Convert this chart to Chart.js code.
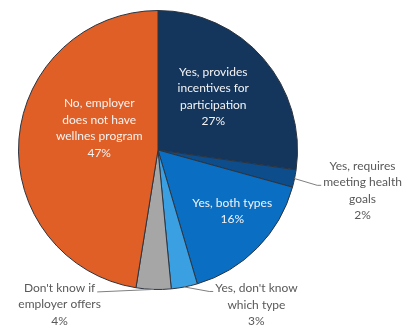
<!DOCTYPE html>
<html><head><meta charset="utf-8">
<script src="https://cdn.jsdelivr.net/npm/chart.js@4/dist/chart.umd.min.js"></script>
<style>html,body{margin:0;padding:0;background:#fff}canvas{display:block}</style>
</head><body>
<canvas id="c" width="405" height="327"></canvas>
<script>
const categories = [
  ["Yes, provides","incentives for","participation"],
  ["Yes, requires","meeting health","goals"],
  ["Yes, both types"],
  ["Yes, don't know","which type"],
  ["Don't know if","employer offers"],
  ["No, employer","does not have","wellnes program"]
];
const values = [27, 2, 16, 3, 4, 47];
const colors = ["#14355c", "#0d4d8c", "#0a6fc2", "#3ba0e2", "#a6a6a6", "#df5f26"];
// label style: inside (radial fraction, angle shift deg) or outside (dx, dy from arc edge)
const labelStyle = [
  {inside:true, frac:0.55, shift:-3},
  {inside:false, dx:68, dy:12, lineTo:"left"},
  {inside:true, frac:0.69, shift:-5},
  {inside:false, dx:72, dy:18, lineTo:"left"},
  {inside:false, dx:-94, dy:15, lineTo:"right"},
  {inside:true, frac:0.45, shift:16}
];

const labelPlugin = {
  id: 'sliceLabels',
  afterDatasetsDraw(chart) {
    const ctx = chart.ctx;
    const meta = chart.getDatasetMeta(0);
    const lh = 16.5;
    ctx.save();
    ctx.font = '12px Lato';
    ctx.textAlign = 'center';
    ctx.textBaseline = 'middle';
    meta.data.forEach((arc, i) => {
      const p = arc.getProps(['x','y','startAngle','endAngle','outerRadius'], true);
      const mid = (p.startAngle + p.endAngle) / 2;
      const lines = categories[i].concat([values[i] + '%']);
      const s = labelStyle[i];
      if (s.inside) {
        const a = mid + s.shift * Math.PI / 180;
        const r = p.outerRadius * s.frac;
        const cx = p.x + Math.cos(a) * r, cy = p.y + Math.sin(a) * r;
        ctx.fillStyle = '#f4f4f4';
        const y0 = cy - (lines.length - 1) * lh / 2;
        lines.forEach((t, k) => ctx.fillText(t, cx, y0 + k * lh));
      } else {
        const ax = p.x + Math.cos(mid) * p.outerRadius;
        const ay = p.y + Math.sin(mid) * p.outerRadius;
        const cx = ax + s.dx, cy = ay + s.dy;
        const y0 = cy - (lines.length - 1) * lh / 2;
        ctx.fillStyle = '#595959';
        lines.forEach((t, k) => ctx.fillText(t, cx, y0 + k * lh));
        // leader line
        let lx, ly;
        if (s.lineTo === 'left') {
          const k = i === 1 ? 1 : 0;
          const w = ctx.measureText(lines[k]).width;
          lx = cx - w / 2 - 2; ly = y0 + k * lh + 3;
        } else {
          const w = ctx.measureText(lines[0]).width;
          lx = cx + w / 2 + 2; ly = y0 + 4;
        }
        ctx.strokeStyle = '#7f7f7f';
        ctx.lineWidth = 1;
        ctx.beginPath();
        ctx.moveTo(ax, ay);
        if (s.lineTo === 'right') { ctx.lineTo(lx, ly); }
        else { ctx.lineTo(lx - 4, ly); ctx.lineTo(lx, ly); }
        ctx.stroke();
      }
    });
    ctx.restore();
  }
};

new Chart(document.getElementById('c'), {
  type: 'pie',
  data: {
    labels: categories.map(l => l.join(' ')),
    datasets: [{
      data: values,
      backgroundColor: colors,
      borderColor: '#2b3440',
      borderWidth: 1
    }]
  },
  options: {
    responsive: false,
    animation: false,
    layout: { padding: { left: 18, top: 10, right: 107, bottom: 37 } },
    plugins: { legend: { display: false }, tooltip: { enabled: false } }
  },
  plugins: [labelPlugin]
});
</script>
</body></html>
